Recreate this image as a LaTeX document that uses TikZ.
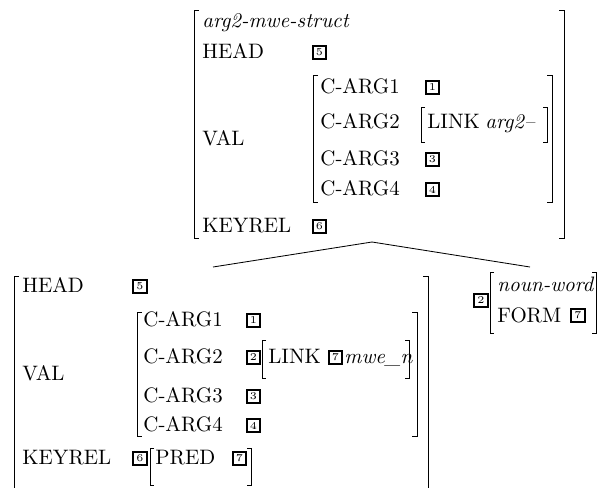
\documentclass[tikz,border=0pt]{standalone}
\usepackage{tikz}

\begin{document}
\begin{tikzpicture}[x=0.4785pt, y=-0.4785pt,
    brk/.style={black, line width=0.4pt},
    feat/.style={anchor=base west, inner sep=0pt},
    tag/.style={draw, line width=0.9pt, minimum size=6.6pt, inner sep=0pt, font=\tiny}]
            \useasboundingbox (0,0) rectangle (599,487);

            % mother
            \draw[brk] (199,10) -| (194,238) -- (199,238);
            \draw[brk] (559,10) -| (564,238) -- (559,238);
            \node[feat] (t-type) at (202,27) {\textit{arg2-mwe-struct}};
            \node[feat] (t-head) at (202,58) {HEAD};
            \node[tag] (t-head-v) at (319.5,52.5) {5};
            \node[feat] (t-val) at (202,145) {VAL};
            \draw[brk] (318,75) -| (313,202) -- (318,202);
            \draw[brk] (547,75) -| (552,202) -- (547,202);
            \node[feat] (t-arg1) at (320,93) {C-ARG1};
            \node[tag] (t-arg1-v) at (432.5,87.5) {1};
            \node[feat] (t-arg2) at (320,128) {C-ARG2};
            \draw[brk] (425,107) -| (421,142) -- (425,142);
            \draw[brk] (543,107) -| (547,142) -- (543,142);
            \node[feat] (t-link) at (427,128) {LINK};
            \node[feat] (t-link-v) at (485,128) {\textit{arg2--}};
            \node[feat] (t-arg3) at (320,165) {C-ARG3};
            \node[tag] (t-arg3-v) at (432.5,159.5) {3};
            \node[feat] (t-arg4) at (320,195) {C-ARG4};
            \node[tag] (t-arg4-v) at (432.5,189.5) {4};
            \node[feat] (t-keyrel) at (202,232) {KEYREL};
            \node[tag] (t-keyrel-v) at (319.5,226.5) {6};

            % tree
            \coordinate (root) at (372,242);
            \coordinate (head-dtr) at (213,267);
            \coordinate (nonhead-dtr) at (530,267);
            \draw[black, line width=0.4pt] (head-dtr) -- (root) -- (nonhead-dtr);

            % left daughter
            \draw[brk] (19,276) -| (14,500);
            \draw[brk] (423,276) -| (428,500);
            \node[feat] (l-head) at (22,292) {HEAD};
            \node[tag] (l-head-v) at (140,286.5) {5};
            \node[feat] (l-val) at (22,380) {VAL};
            \draw[brk] (142,312) -| (137,436) -- (142,436);
            \draw[brk] (412,312) -| (417,436) -- (412,436);
            \node[feat] (l-arg1) at (143,326) {C-ARG1};
            \node[tag] (l-arg1-v) at (253.5,320.5) {1};
            \node[feat] (l-arg2) at (143,363) {C-ARG2};
            \node[tag] (l-arg2-v) at (253.5,357.5) {2};
            \draw[brk] (266,340) -| (262,378) -- (266,378);
            \draw[brk] (405,340) -| (409,378) -- (405,378);
            \node[feat] (l-link) at (268,363) {LINK};
            \node[tag] (l-link-t) at (335.5,357.5) {7};
            \node[feat] (l-link-v) at (344,363) {\textit{mwe\_n}};
            \node[feat] (l-arg3) at (143,402) {C-ARG3};
            \node[tag] (l-arg3-v) at (253.5,396.5) {3};
            \node[feat] (l-arg4) at (143,431) {C-ARG4};
            \node[tag] (l-arg4-v) at (253.5,425.5) {4};
            \node[feat] (l-keyrel) at (22,464) {KEYREL};
            \node[tag] (l-keyrel-v) at (140,458.5) {6};
            \draw[brk] (154,448) -| (150,485) -- (154,485);
            \draw[brk] (247,448) -| (251,485) -- (247,485);
            \node[feat] (l-pred) at (155,464) {PRED};
            \node[tag] (l-pred-v) at (239.5,458.5) {7};

            % right daughter
            \node[tag] (r-tag) at (481,300.5) {2};
            \draw[brk] (494,272) -| (490,333) -- (494,333);
            \draw[brk] (592,272) -| (596,333) -- (592,333);
            \node[feat] (r-type) at (497,291) {\textit{noun-word}};
            \node[feat] (r-form) at (497,322) {FORM};
            \node[tag] (r-form-v) at (578,315.5) {7};
        \end{tikzpicture}
\end{document}
